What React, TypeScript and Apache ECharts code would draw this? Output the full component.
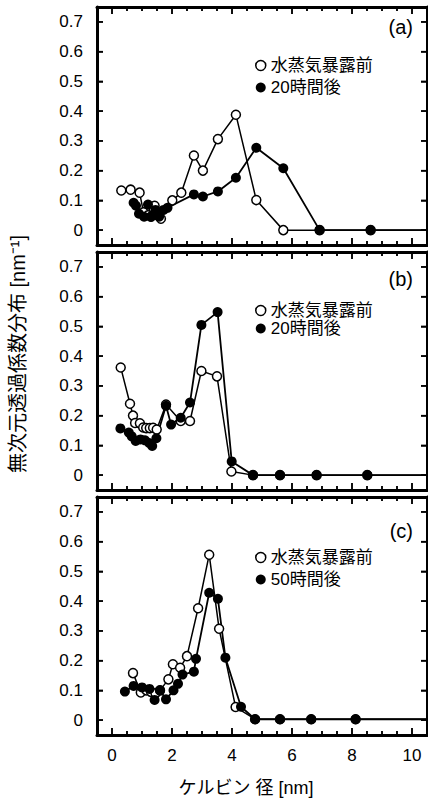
import React, { useEffect, useRef } from "react";
import * as echarts from "echarts";

const panelLabels = ["(a)", "(b)", "(c)"];
const beforeName = "水蒸気暴露前";
const afterNames = ["20時間後", "20時間後", "50時間後"];
const yTitle = "無次元透過係数分布 [nm⁻¹]";
const xTitle = "ケルビン 径 [nm]";
const xTickLabels = [0, 2, 4, 6, 8, 10];
const xTickMarks = [0, 0.5, 1, 1.5, 2, 2.5, 3, 3.5, 4, 4.5, 5, 5.5, 6, 6.5, 7, 7.5, 8, 8.5, 9, 9.5, 10];
const yTickLabels = [0, 0.1, 0.2, 0.3, 0.4, 0.5, 0.6, 0.7];

// Panel (a)
const aBeforeX = [0.31, 0.62, 0.92, 1.05, 1.2, 1.3, 1.42, 1.52, 1.63, 2.01, 2.31, 2.73, 3.03, 3.53, 4.13, 4.81, 5.71, 6.92, 8.62, 11];
const aBeforeY = [0.133, 0.136, 0.126, 0.06, 0.05, 0.045, 0.082, 0.05, 0.038, 0.1, 0.126, 0.251, 0.2, 0.306, 0.388, 0.101, 0, 0, 0, 0];
const aAfterX = [0.72, 0.8, 0.9, 1.07, 1.2, 1.3, 1.45, 1.57, 1.72, 1.85, 2.73, 3.03, 3.53, 4.13, 4.81, 5.71, 6.92, 8.62, 11];
const aAfterY = [0.092, 0.082, 0.055, 0.045, 0.086, 0.045, 0.068, 0.045, 0.068, 0.075, 0.12, 0.113, 0.13, 0.176, 0.277, 0.208, 0, 0, 0];

// Panel (b)
const bBeforeX = [0.29, 0.6, 0.7, 0.77, 0.93, 1.04, 1.14, 1.26, 1.37, 1.49, 1.8, 2.29, 2.6, 2.98, 3.5, 3.98, 4.7, 5.6, 6.82, 8.51, 11];
const bBeforeY = [0.362, 0.24, 0.2, 0.175, 0.174, 0.16, 0.158, 0.158, 0.159, 0.153, 0.237, 0.182, 0.182, 0.35, 0.332, 0.012, 0, 0, 0, 0, 0];
const bAfterX = [0.28, 0.56, 0.66, 0.79, 0.95, 1.1, 1.24, 1.34, 1.48, 1.8, 1.97, 2.29, 2.6, 2.98, 3.52, 3.99, 4.7, 5.6, 6.82, 8.51, 11];
const bAfterY = [0.157, 0.143, 0.13, 0.115, 0.12, 0.117, 0.108, 0.098, 0.124, 0.233, 0.17, 0.193, 0.244, 0.505, 0.548, 0.046, 0, 0, 0, 0, 0];

// Panel (c)
const cBeforeX = [0.7, 0.96, 1.15, 1.3, 1.45, 1.6, 1.88, 2.03, 2.27, 2.5, 2.87, 3.24, 3.57, 4.12, 4.77, 5.6, 6.64, 8.12, 11];
const cBeforeY = [0.158, 0.093, 0.1, 0.095, 0.09, 0.1, 0.137, 0.188, 0.176, 0.215, 0.376, 0.556, 0.307, 0.044, 0.003, 0.003, 0.003, 0.003, 0.003];
const cAfterX = [0.43, 0.72, 1.0, 1.25, 1.42, 1.6, 1.8, 2.05, 2.2, 2.35, 2.73, 2.8, 3.24, 3.53, 3.78, 4.3, 4.77, 5.6, 6.64, 8.12, 11];
const cAfterY = [0.096, 0.115, 0.11, 0.105, 0.068, 0.1, 0.07, 0.1, 0.122, 0.153, 0.163, 0.206, 0.428, 0.408, 0.21, 0.045, 0.003, 0.003, 0.003, 0.003, 0.003];

const panels = [
  { bx: aBeforeX, by: aBeforeY, ax: aAfterX, ay: aAfterY },
  { bx: bBeforeX, by: bBeforeY, ax: bAfterX, ay: bAfterY },
  { bx: cBeforeX, by: cBeforeY, ax: cAfterX, ay: cAfterY },
];

const zip = (xs: number[], ys: number[]) => xs.map((x, i) => [x, ys[i]]);

const FONT = "'Liberation Sans', Arial, 'Noto Sans CJK JP', sans-serif";
const X_MIN = -0.5;
const X_MAX = 10.5;
const Y_MIN = -0.05;
const Y_MAX = 0.75;
const gridTops = [7, 252, 497];
const gridLeft = 97;
const gridWidth = 330;
const gridHeight = 238;
const legendTops = [52, 297, 544];
const legendGaps = [5, 1, 5];
const labelYs = [27, 279, 531];

export default function App() {
  const ref = useRef<HTMLDivElement>(null);
  useEffect(() => {
    if (!ref.current) return;
    const chart = echarts.init(ref.current, null, { renderer: "svg" });
    const grid: any[] = [];
    const xAxis: any[] = [];
    const yAxis: any[] = [];
    const series: any[] = [];
    const legend: any[] = [];
    const textGraphics: any[] = [];
    panels.forEach((p, i) => {
      grid.push({
        left: gridLeft,
        top: gridTops[i],
        width: gridWidth,
        height: gridHeight,
        show: false,
      });
      ["bottom", "top"].forEach((pos) => {
        xAxis.push({
          type: "value",
          gridIndex: i,
          position: pos,
          min: X_MIN,
          max: X_MAX,
          axisLine: { show: true, onZero: false, lineStyle: { color: "#000", width: 3 } },
          splitLine: { show: false },
          axisTick: { show: true, inside: true, length: 7, customValues: xTickLabels, lineStyle: { color: "#000", width: 1.5 } },
          minorTick: { show: true, splitNumber: 4, length: 4, lineStyle: { color: "#000", width: 1.5 } },
          axisLabel: {
            show: pos === "bottom" && i === 2,
            customValues: xTickLabels,
            margin: 12,
            fontSize: 17,
            color: "#000",
            fontFamily: FONT,
          },
        });
      });
      ["left", "right"].forEach((pos) => {
        yAxis.push({
          type: "value",
          gridIndex: i,
          position: pos,
          min: Y_MIN,
          max: Y_MAX,
          axisLine: { show: true, onZero: false, lineStyle: { color: "#000", width: 3 } },
          splitLine: { show: false },
          axisTick: { show: true, inside: true, length: 6, customValues: yTickLabels, lineStyle: { color: "#000", width: 1.5 } },
          axisLabel: {
            show: pos === "left",
            customValues: yTickLabels,
            margin: 14,
            fontSize: 17,
            color: "#000",
            fontFamily: FONT,
            formatter: (v: number) => (v === 0 ? "0" : v.toFixed(1)),
          },
        });
      });
      series.push({
        type: "line",
        name: beforeName,
        xAxisIndex: i * 2,
        yAxisIndex: i * 2,
        data: zip(p.bx, p.by),
        symbol: "circle",
        symbolSize: 9,
        lineStyle: { color: "#000", width: 1.5 },
        itemStyle: { color: "#fff", borderColor: "#000", borderWidth: 1.5 },
      });
      series.push({
        type: "line",
        name: afterNames[i],
        xAxisIndex: i * 2,
        yAxisIndex: i * 2,
        data: zip(p.ax, p.ay),
        symbol: "circle",
        symbolSize: 10,
        lineStyle: { color: "#000", width: 1.8 },
        itemStyle: { color: "#000", borderColor: "#000", borderWidth: 0 },
      });
      legend.push({
        left: 250,
        top: legendTops[i],
        orient: "vertical",
        itemGap: legendGaps[i],
        itemWidth: 10,
        itemHeight: 10,
        selectedMode: false,
        textStyle: { fontSize: 17, color: "#000", fontFamily: FONT },
        data: [
          { name: beforeName, icon: "circle", itemStyle: { color: "#fff", borderColor: "#000", borderWidth: 1.5 } },
          { name: afterNames[i], icon: "circle", itemStyle: { color: "#000", borderWidth: 0 } },
        ],
      });
      textGraphics.push({
        type: "text",
        x: 413,
        y: labelYs[i],
        style: {
          text: panelLabels[i],
          fontSize: 20,
          fontFamily: FONT,
          fill: "#000",
          textAlign: "right",
          textVerticalAlign: "middle",
        },
      });
    });
    textGraphics.push({
      type: "text",
      x: 18,
      y: 354,
      rotation: Math.PI / 2,
      style: {
        text: yTitle,
        fontSize: 20,
        fontFamily: FONT,
        fill: "#000",
        textAlign: "center",
        textVerticalAlign: "middle",
      },
    });
    textGraphics.push({
      type: "text",
      x: 246,
      y: 788,
      style: {
        text: xTitle,
        fontSize: 18,
        fontFamily: FONT,
        fill: "#000",
        textAlign: "center",
        textVerticalAlign: "middle",
      },
    });
    chart.setOption({
      animation: false,
      grid,
      xAxis,
      yAxis,
      series,
      legend,
      graphic: textGraphics,
    });

    // Inward tick marks on all four sides, positioned through the axes' own scales.
    const tickGraphics: any[] = [];
    const st = { stroke: "#000", lineWidth: 1.5 };
    panels.forEach((_, i) => {
      const finder = { xAxisIndex: i * 2, yAxisIndex: i * 2 };
      xTickMarks.forEach((v) => {
        const len = v % 2 === 0 ? 7 : 4;
        const b = chart.convertToPixel(finder as any, [v, Y_MIN]) as number[];
        const t = chart.convertToPixel(finder as any, [v, Y_MAX]) as number[];
        if (!b || !t) return;
        tickGraphics.push({ type: "line", silent: true, z: 50, shape: { x1: b[0], y1: b[1], x2: b[0], y2: b[1] - len }, style: st });
        tickGraphics.push({ type: "line", silent: true, z: 50, shape: { x1: t[0], y1: t[1], x2: t[0], y2: t[1] + len }, style: st });
      });
      yTickLabels.forEach((v) => {
        const l = chart.convertToPixel(finder as any, [X_MIN, v]) as number[];
        const r = chart.convertToPixel(finder as any, [X_MAX, v]) as number[];
        if (!l || !r) return;
        tickGraphics.push({ type: "line", silent: true, z: 50, shape: { x1: l[0], y1: l[1], x2: l[0] + 6, y2: l[1] }, style: st });
        tickGraphics.push({ type: "line", silent: true, z: 50, shape: { x1: r[0], y1: r[1], x2: r[0] - 6, y2: r[1] }, style: st });
      });
    });
    chart.setOption({ graphic: [...textGraphics, ...tickGraphics] });
    return () => chart.dispose();
  }, []);
  return (
    <div
      ref={ref}
      style={{ position: "absolute", left: 0, top: 0, width: 428, height: 800 }}
    />
  );
}
